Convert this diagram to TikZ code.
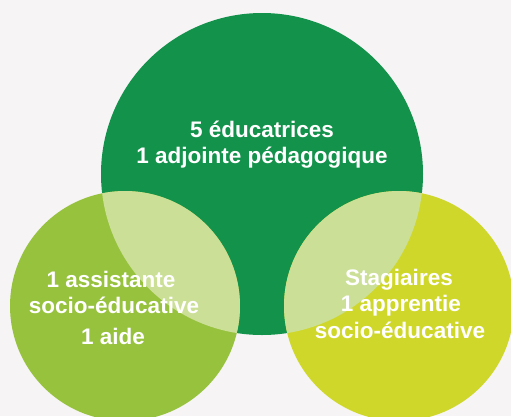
\documentclass[tikz,border=0pt]{standalone}
\usepackage{fontspec}
\setmainfont{Liberation Sans}
\definecolor{bgc}{HTML}{F6F4F5}
\definecolor{biggreen}{HTML}{12924A}
\definecolor{leftgreen}{HTML}{97C23E}
\definecolor{rightgreen}{HTML}{CFD72B}
\definecolor{lapc}{HTML}{CBDF96}
\begin{document}
\begin{tikzpicture}[x=1pt,y=-1pt,
  disc/.style={circle, inner sep=0pt, draw=none},
  txt/.style={anchor=base, text=white, inner sep=0pt, font=\fontsize{22.5}{26}\selectfont\bfseries}]
\useasboundingbox (0,0) rectangle (511,416);
\fill[bgc] (0,0) rectangle (511,416);
\clip (0,0) rectangle (511,416);
\node[disc, fill=biggreen, minimum size=322pt] (big) at (262,174) {};
\node[disc, fill=leftgreen, minimum size=230pt] (left) at (125,306) {};
\node[disc, fill=rightgreen, minimum size=230pt] (right) at (399,306) {};
\begin{scope}
  \clip (big.center) circle[radius=161];
  \fill[lapc] (left.center) circle[radius=115];
  \fill[lapc] (right.center) circle[radius=115];
\end{scope}
\node[txt] (b1) at (262,137) {5 éducatrices};
\node[txt] (b2) at (262,163) {1 adjointe pédagogique};
\node[txt] (l1) at (111,287) {1 assistante};
\node[txt] (l2) at (114,313) {socio-éducative};
\node[txt] (l3) at (113,344) {1 aide};
\node[txt] (r1) at (399,285) {Stagiaires};
\node[txt] (r2) at (401,311) {1 apprentie};
\node[txt] (r3) at (400,338) {socio-éducative};
\end{tikzpicture}
\end{document}
